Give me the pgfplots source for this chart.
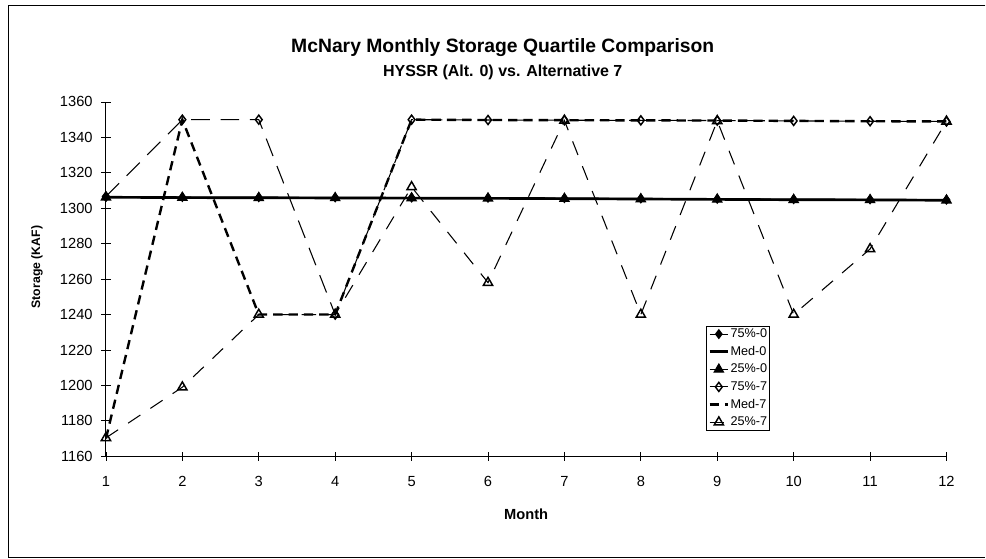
\documentclass[border=0pt]{standalone}
\usepackage{fontspec}
\setmainfont{Liberation Sans}
\usepackage{pgfplots}
\pgfplotsset{compat=1.18}
\begin{document}
\begin{tikzpicture}
\begin{axis}[
 at={(0,0)}, anchor=south west,
 scale only axis, width=630.75pt, height=265.9pt,
 xmin=1, xmax=12, ymin=1160, ymax=1360,
 xtick={1,...,12}, ytick={1160,1180,...,1360},
 axis x line=bottom, axis y line=left,
 axis line style={-, line width=0.8pt},
 tick align=center, major tick length=7pt,
 tick style={black, line width=0.6pt},
 /pgf/number format/assume math mode=true,
 /pgf/number format/1000 sep={},
 ticklabel style={font=\fontsize{11}{13}\selectfont},
 xticklabel style={yshift=-8pt}, yticklabel style={xshift=-3pt},
 xlabel={Month}, ylabel={Storage (KAF)},
 xlabel style={font=\bfseries\fontsize{11}{13}\selectfont, at={(axis description cs:0.5,-0.165)}, anchor=center},
 ylabel style={font=\bfseries\fontsize{9.2}{11}\selectfont, at={(axis description cs:-0.082,0.534)}, anchor=center},
 legend style={at={(rel axis cs:0.79,0.368)}, anchor=north east, font=\fontsize{9.5}{11}\selectfont, draw=black, line width=0.6pt, inner sep=1pt, row sep=3.4pt, nodes={inner sep=0.8pt}},
 legend cell align=left,
 legend image code/.code={\draw[mark repeat=2, mark phase=2, #1] plot coordinates {(0pt,0pt) (7pt,0pt) (14pt,0pt)};},
]
\addplot[black, line width=0.9pt, mark=diamond*, mark size=3.2pt] coordinates {(1,1306.5) (2,1306.3) (3,1306.2) (4,1306.1) (5,1306) (6,1305.9) (7,1305.7) (8,1305.5) (9,1305.3) (10,1305.1) (11,1305) (12,1304.8)};
\addlegendentry{75\%-0}
\addplot[black, line width=2pt] coordinates {(1,1306.2) (2,1306.0) (3,1305.9) (4,1305.8) (5,1305.7) (6,1305.6) (7,1305.4) (8,1305.2) (9,1305.0) (10,1304.8) (11,1304.7) (12,1304.5)};
\addlegendentry{Med-0}
\addplot[black, line width=0.9pt, mark=triangle*, mark size=4pt] coordinates {(1,1306.2) (2,1306.0) (3,1305.9) (4,1305.8) (5,1305.7) (6,1305.6) (7,1305.4) (8,1305.2) (9,1305.0) (10,1304.8) (11,1304.7) (12,1304.5)};
\addlegendentry{25\%-0}
\addplot[black, line width=0.8pt, dash pattern=on 14pt off 8pt, mark=diamond, mark size=3.4pt, mark options={solid, fill=white, line width=1.1pt}] coordinates {(1,1306.6) (2,1350) (3,1350) (4,1240) (5,1350) (6,1349.8) (7,1349.7) (8,1349.6) (9,1349.5) (10,1349.3) (11,1349.1) (12,1349)};
\addlegendentry{75\%-7}
\addplot[black, line width=1.8pt, dash pattern=on 7pt off 4.5pt] coordinates {(1,1170) (2,1350) (3,1240) (4,1240) (5,1350) (6,1349.8) (7,1349.7) (8,1349.6) (9,1349.5) (10,1349.3) (11,1349.1) (12,1349)};
\addlegendentry{Med-7}
\addplot[black, line width=0.8pt, dash pattern=on 11pt off 9pt, mark=triangle, mark size=4pt, mark options={solid, fill=white, line width=1.1pt}] coordinates {(1,1170.4) (2,1199) (3,1240) (4,1240) (5,1312) (6,1258) (7,1349.5) (8,1240) (9,1349.3) (10,1240) (11,1277) (12,1349)};
\addlegendentry{25\%-7}
\end{axis}
\path (-79.5pt,-76.9pt) rectangle (660pt,342.4pt);
\draw[line width=0.8pt] (660pt,338.25pt) -- (-73.1pt,338.25pt) -- (-73.1pt,-75.75pt) -- (660pt,-75.75pt);
\node[font=\bfseries\fontsize{14.5}{17}\selectfont] at (297.75pt,306.4pt) {McNary Monthly Storage Quartile Comparison};
\node[font=\bfseries\fontsize{12}{14}\selectfont] at (297.75pt,288.4pt) {HYSSR (Alt. 0) vs. Alternative 7};
\end{tikzpicture}
\end{document}
